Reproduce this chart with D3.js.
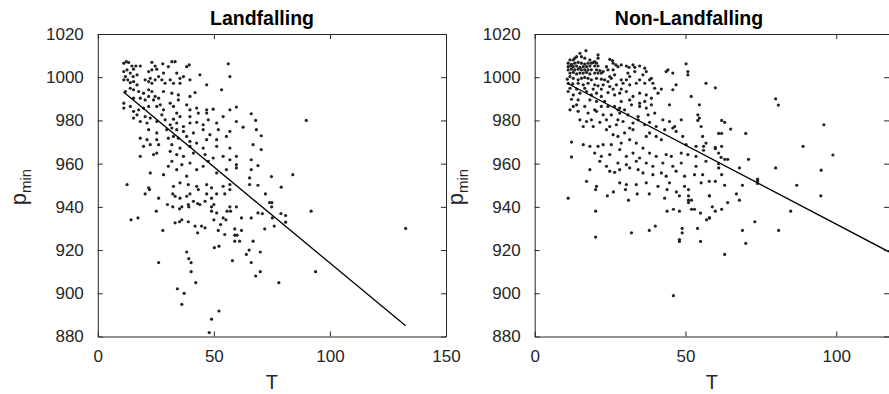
<!DOCTYPE html>
<html>
<head>
<meta charset="utf-8">
<script src="https://cdn.jsdelivr.net/npm/d3@7"></script>
<style>
  body { margin: 0; background: #fff; }
  svg { display: block; font-family: "Liberation Sans", Arial, Helvetica, sans-serif; }
  .axis path, .axis line { stroke: #262626; }
  .axis text { fill: #262626; font-size: 17px; }
</style>
</head>
<body>
<div class="chart"></div>
<script>
// Data: minimum pressure (hPa) vs T
const landT = [
    11.2,12.3,13.3,14.7,16.4,18.3,23.3,24.7,28.0,30.4,31.9,33.3,38.3,39.4,56.2,
    11.2,12.6,14.0,15.4,11.9,15.2,16.9,21.9,23.3,25.4,26.2,28.3,22.6,34.0,36.9,44.0,56.9,
    11.2,12.9,14.0,15.4,16.9,20.4,21.9,23.3,24.7,27.6,29.0,31.2,32.6,35.4,35.4,46.9,39.7,
    11.9,14.0,15.4,17.6,19.7,21.9,23.3,24.7,26.2,21.9,24.0,28.3,31.9,34.7,34.7,39.7,41.9,53.3,20.4,18.3,15.4,
    11.2,11.2,14.0,15.4,17.6,19.7,21.9,25.4,26.9,28.3,31.2,32.6,38.3,39.7,42.6,46.9,49.7,56.9,59.7,66.1,16.9,20.4,27.6,34.0,35.4,39.7,43.3,46.9,
    15.4,18.3,21.2,22.6,25.4,29.0,31.2,32.6,34.0,36.9,39.7,42.6,45.4,47.6,51.2,54.0,59.7,62.6,68.3,21.9,25.4,29.7,31.9,34.0,36.9,38.3,41.2,45.4,48.3,51.9,56.9,70.4,
    18.3,21.2,25.4,30.4,32.6,34.7,39.7,42.6,46.9,51.2,55.4,19.7,22.6,26.2,31.9,35.4,39.7,45.4,51.2,56.9,66.9,70.4,18.3,24.0,25.4,31.2,34.0,36.9,41.2,46.2,49.7,54.0,59.7,
    22.6,28.3,30.4,31.9,34.0,36.2,39.7,38.3,42.6,45.4,47.6,51.2,55.4,59.7,66.1,66.1,69.0,65.4,12.6,21.9,32.6,35.4,39.0,42.6,46.9,49.0,54.0,56.9,65.4,
    68.0,56.9,59.7,69.0,
    89.8,74.8,84.0,79.0,74.0,75.0,74.9,75.2,76.0,78.9,80.9,80.9,91.9,93.8,78.0,132.6,
    20.4,22.3,26.2,32.3,33.3,35.4,38.3,39.7,43.3,46.9,49.0,51.2,54.7,56.9,
    30.0,32.3,35.2,36.2,39.0,39.2,41.2,43.0,44.0,46.2,49.0,50.0,51.2,
    25.2,14.3,17.3,28.0,33.3,35.2,36.2,39.0,41.9,43.0,44.7,46.2,49.0,50.0,
    51.9,52.9,54.0,55.2,55.7,56.9,57.2,59.7,54.7,59.0,59.0,60.0,59.0,61.1,
    61.9,61.9,64.0,65.2,66.1,66.1,66.9,68.0,69.0,70.0,70.0,70.9,71.9,72.2,
    26.2,38.3,39.2,40.2,40.2,42.2,34.3,37.2,36.2,50.2,52.2,58.0,49.0,52.2,48.0
];
const landP = [
    1006.5,1007.2,1006.8,1005.2,1005.2,1005.2,1006.9,1005.2,1006.2,1004.9,1007.2,1007.2,1004.9,1005.7,1006.2,
    1002.6,1003.4,1001.9,1003.7,1000.3,1000.3,1001.1,1002.6,1003.4,1003.7,1000.3,1001.9,999.5,1001.9,1000.3,1001.1,1000.3,
    998.8,998.8,997.5,998.0,996.5,998.8,998.0,997.2,998.8,998.8,997.2,998.8,997.2,997.2,999.5,996.5,998.8,
    993.4,994.9,994.2,993.4,992.6,994.2,993.4,991.1,990.3,991.1,989.5,993.4,992.6,991.8,989.5,991.1,992.9,994.2,989.5,990.3,990.3,
    988.0,985.7,986.5,984.2,984.9,985.7,986.5,986.5,987.2,984.9,988.0,986.5,987.2,984.9,985.7,984.9,985.2,984.9,986.2,983.1,982.6,981.8,982.6,983.4,981.8,981.8,983.4,983.4,
    981.1,979.5,978.8,981.1,979.5,980.3,978.0,980.6,978.8,977.2,978.8,979.1,978.0,980.3,978.8,981.8,979.5,976.9,975.7,975.7,974.2,975.7,976.5,975.7,974.9,972.6,974.2,975.7,973.4,975.7,974.9,972.9,
    971.8,971.1,971.1,971.8,972.6,971.8,970.3,969.5,971.1,971.1,972.6,968.0,968.8,968.8,968.8,967.2,968.0,967.2,968.0,967.2,968.8,966.5,963.4,964.2,964.9,965.7,964.2,963.4,964.9,964.2,962.6,963.4,963.4,
    955.7,954.9,958.8,961.1,957.2,959.5,960.3,954.2,957.2,958.8,961.1,955.7,957.2,958.0,961.8,957.2,959.1,953.4,950.3,948.8,949.5,951.1,950.3,949.5,950.3,948.8,949.5,950.3,950.3,
    980.0,961.8,959.5,950.0,
    980.0,954.0,954.9,949.1,942.0,942.0,940.0,934.9,931.1,936.9,936.0,932.9,938.0,910.0,904.9,930.0,
    946.0,948.0,944.0,946.0,944.9,944.0,944.9,946.0,948.0,946.0,944.0,946.0,946.0,948.0,
    941.1,940.0,939.1,940.0,941.1,940.0,942.6,941.5,941.1,942.6,940.0,941.1,937.2,
    938.0,934.0,934.9,929.1,932.6,933.1,934.0,933.1,931.1,928.0,931.1,930.3,938.0,934.0,
    929.1,931.8,934.9,934.0,938.0,940.0,938.0,940.0,927.2,929.8,926.9,926.9,924.1,924.1,
    929.1,934.9,918.0,920.0,934.9,914.2,924.1,908.0,937.2,910.0,919.1,936.9,929.8,946.0,
    914.2,919.1,916.0,914.2,910.0,904.9,902.1,900.0,894.9,921.1,921.8,915.1,888.0,891.8,881.8
];

const nonT = [
    17.0,15.0,13.3,11.7,12.8,13.9,15.5,16.6,18.3,21.0,21.0,19.9,24.9,25.8,18.8,
    11.1,12.2,13.3,14.4,15.5,16.6,17.7,19.4,20.5,11.1,11.9,12.8,13.9,15.0,16.1,17.2,18.3,19.9,
    21.0,11.1,12.2,13.3,14.4,15.5,16.6,17.7,18.8,20.5,21.6,11.7,12.8,13.9,15.0,16.1,17.2,18.3,19.9,21.0,
    22.1,22.7,23.8,24.3,26.0,26.9,27.6,28.7,30.4,31.3,32.6,33.2,34.8,36.5,37.0,33.2,35.9,31.5,30.9,26.0,
    26.5,24.9,50.2,44.2,43.6,45.8,50.8,50.8,56.8,38.7,39.2,
    10.8,11.7,12.8,14.4,15.5,16.6,17.7,18.8,20.5,22.1,23.2,24.3,25.4,
    11.1,12.6,14.4,16.1,17.7,19.9,21.0,22.7,24.9,27.1,28.7,29.3,30.4,31.5,33.7,34.8,36.5,38.1,39.8,42.0,46.9,45.8,
    11.7,13.9,16.6,19.4,22.1,26.0,28.7,
    11.1,12.8,15.0,17.2,18.8,20.5,22.1,24.3,26.5,28.2,30.4,32.6,34.8,37.0,38.7,40.9,
    36.5,34.8,31.5,28.7,23.2,20.5,18.3,14.4,12.2,
    12.8,11.7,13.9,16.6,19.9,22.1,24.3,26.5,27.6,28.2,29.8,32.1,34.8,37.0,38.7,44.7,51.9,54.6,
    15.0,16.1,17.2,18.8,19.4,21.6,23.8,24.9,27.1,27.6,29.3,31.5,32.6,34.3,36.5,38.1,40.3,42.5,44.7,46.4,48.6,54.1,54.6,55.2,
    14.4,17.7,20.5,22.7,25.4,28.2,30.9,34.3,37.6,39.8,
    54.1,56.0,56.0,
    12.2,16.1,18.3,21.0,22.7,26.0,27.6,29.8,31.5,33.7,37.0,38.1,40.3,42.0,43.1,45.8,46.9,49.1,50.2,53.5,55.7,56.8,25.4,28.7,35.9,23.8,32.6,
    12.2,19.9,22.1,24.9,28.2,30.4,32.6,34.8,38.1,40.3,43.6,45.3,48.6,50.8,53.5,21.6,23.8,27.6,30.4,33.7,37.0,39.2,42.5,45.8,48.6,53.5,56.8,18.3,
    24.9,26.5,28.2,31.5,34.3,35.9,39.2,42.0,43.6,46.9,49.7,53.0,55.7,17.2,20.5,28.2,30.4,33.7,37.0,40.9,44.7,49.7,55.2,
    59.9,62.0,63.0,65.0,61.0,62.0,70.0,62.0,59.9,59.9,61.0,61.8,63.0,64.0,70.9,61.0,61.0,67.9,62.0,59.9,57.9,63.0,68.9,73.9,73.9,73.9,79.9,80.8,79.9,86.9,89.0,95.0,95.9,98.9,
    11.1,20.2,24.1,26.1,30.1,31.1,34.0,38.0,43.1,43.9,47.0,48.0,51.0,51.0,51.0,51.0,52.0,57.9,20.2,43.9,46.0,48.0,52.0,53.0,55.0,57.0,57.9,20.2,32.1,38.0,40.0,48.9,48.9,48.0,48.0,54.0,55.0,46.0,
    58.0,64.0,66.9,67.9,62.0,59.9,58.9,58.0,68.9,70.0,73.0,63.0,80.9,84.9,94.9
];
const nonP = [
    1012.3,1011.1,1008.8,1008.0,1008.0,1009.5,1009.5,1008.8,1008.0,1010.3,1008.8,1007.2,1008.3,1007.7,1006.5,
    1006.5,1006.0,1006.5,1006.9,1006.5,1006.1,1006.5,1006.8,1006.5,1004.9,1005.2,1004.9,1005.2,1004.6,1004.9,1004.9,1005.2,1005.2,
    1005.2,1003.4,1003.7,1003.4,1003.7,1003.4,1003.4,1003.4,1003.4,1003.4,1003.1,1001.9,1002.2,1001.5,1001.9,1001.9,1002.2,1001.5,1001.9,1001.9,
    1001.9,1002.6,1004.9,1003.4,1006.5,1005.7,1004.9,1005.7,1005.2,1004.6,1005.7,1004.6,1005.2,1004.2,1002.6,1002.6,1001.1,1000.3,1001.9,1003.4,
    1001.1,1000.3,1006.2,1003.4,1002.6,1001.9,1002.6,1001.1,997.2,999.5,997.2,
    999.1,1000.3,999.5,998.8,999.5,999.9,999.5,998.8,999.5,999.1,998.8,998.0,999.5,
    997.2,996.9,997.2,996.5,997.2,996.5,996.0,996.5,995.7,996.5,998.8,997.2,998.8,996.5,997.2,998.8,997.2,998.8,994.9,994.5,996.5,994.2,
    994.9,994.5,994.9,994.5,994.5,994.5,994.5,
    993.4,991.8,992.6,993.4,991.8,992.6,991.1,992.9,991.8,992.6,993.4,991.1,992.6,991.8,990.3,992.6,
    988.8,988.0,989.5,988.8,988.8,988.8,989.5,989.5,989.8,
    986.5,984.9,987.2,986.5,984.9,986.5,986.5,986.5,984.9,985.7,984.9,987.2,986.5,985.7,987.2,987.2,991.1,987.2,
    980.3,977.2,979.5,980.3,977.2,979.1,980.3,977.2,978.0,980.3,979.5,976.5,978.8,980.3,978.0,979.1,977.2,980.3,979.5,977.2,980.3,982.6,981.1,977.2,
    984.2,983.4,984.2,982.6,982.6,983.4,982.6,981.8,982.6,983.4,
    980.0,968.0,966.2,
    970.0,968.8,968.0,968.0,968.8,973.4,972.6,974.2,971.1,969.5,972.6,974.2,972.6,971.1,975.7,976.5,974.9,972.6,968.8,968.0,972.6,969.5,968.8,969.5,967.2,975.7,975.7,
    963.1,964.9,963.4,964.2,966.5,963.4,964.9,962.6,964.9,963.4,964.2,963.4,964.9,964.2,963.4,961.1,958.8,960.3,959.5,961.1,960.3,958.8,960.3,958.8,960.3,958.8,961.1,957.2,
    956.5,956.0,957.2,958.0,957.2,955.7,954.9,955.7,954.2,956.5,954.2,954.9,954.9,951.8,949.5,951.1,950.3,950.3,951.1,949.5,951.1,949.5,951.1,
    995.1,980.0,979.1,976.0,974.0,974.0,974.0,968.0,967.5,966.9,964.9,962.9,962.0,962.0,962.0,960.0,958.0,958.0,954.9,951.8,951.8,950.0,950.0,952.8,951.8,950.8,990.0,987.1,958.0,950.0,968.0,957.0,978.0,964.0,
    944.0,948.0,945.1,946.9,948.0,943.1,946.0,946.0,944.0,948.0,946.9,945.1,948.0,945.1,943.1,942.0,943.1,945.1,938.0,938.0,938.9,938.0,938.9,938.9,937.1,934.0,934.9,926.0,928.0,929.1,931.1,930.0,928.0,924.9,924.0,930.0,924.0,898.9,
    945.1,942.0,946.0,943.1,938.9,938.0,940.0,934.9,929.1,923.1,933.1,918.0,929.1,938.0,945.1
];

// Fitted lines (end points)
const landLineT = [11.1, 132.6];
const landLineP = [993.1, 885.0];
const nonLineT = [10.8, 117.5];
const nonLineP = [997.2, 919.2];

// Ticks
const landXTicks = [0, 50, 100, 150];
const nonXTicks = [0, 50, 100];
const yTicks = [880, 900, 920, 940, 960, 980, 1000, 1020];

// Main
const svg = d3.select('.chart')
    .append('svg')
    .attr('width', 889)
    .attr('height', 394);

function drawPanel(cfg) {
    const x = d3.scaleLinear().domain(cfg.xDomain).range(cfg.xRange);
    const y = d3.scaleLinear().domain([880, 1020]).range([336.5, 34]);

    const g = svg.append('g');
    const [x0, x1] = cfg.xRange;
    const [y1, y0] = y.range();

    g.append('clipPath')
        .attr('id', cfg.id + '-clip')
        .append('rect')
        .attr('x', x0).attr('y', y0)
        .attr('width', x1 - x0).attr('height', y1 - y0);

    // points
    g.append('g')
        .selectAll('circle')
        .data(d3.range(cfg.T.length))
        .join('circle')
        .attr('cx', i => x(cfg.T[i]))
        .attr('cy', i => y(cfg.P[i]))
        .attr('r', 1.6)
        .attr('fill', '#222');

    // fitted line
    const line = d3.line()
        .x(i => x(cfg.lineT[i]))
        .y(i => y(cfg.lineP[i]));
    g.append('path')
        .datum([0, 1])
        .attr('d', line)
        .attr('clip-path', `url(#${cfg.id}-clip)`)
        .attr('fill', 'none')
        .attr('stroke', '#000')
        .attr('stroke-width', 1.3);

    // axes, ticks pointing inwards on all four sides
    g.append('g')
        .attr('class', 'axis')
        .attr('transform', `translate(0, ${y1})`)
        .call(d3.axisBottom(x).tickValues(cfg.xTicks).tickSize(-5).tickSizeOuter(0).tickPadding(13));
    g.append('g')
        .attr('class', 'axis')
        .attr('transform', `translate(0, ${y0})`)
        .call(d3.axisTop(x).tickValues(cfg.xTicks).tickSize(-5).tickSizeOuter(0).tickFormat(''));
    g.append('g')
        .attr('class', 'axis')
        .attr('transform', `translate(${x0}, 0)`)
        .call(d3.axisLeft(y).tickValues(yTicks).tickSize(-5).tickSizeOuter(0).tickPadding(14).tickFormat(d3.format('d')));
    g.append('g')
        .attr('class', 'axis')
        .attr('transform', `translate(${x1}, 0)`)
        .call(d3.axisRight(y).tickValues(yTicks).tickSize(-5).tickSizeOuter(0).tickFormat(''));

    g.selectAll('.axis .domain').attr('stroke', '#262626');

    // title
    g.append('text')
        .attr('x', cfg.titleX)
        .attr('y', 25)
        .attr('text-anchor', 'middle')
        .style('font-size', '19.5px')
        .style('font-weight', 'bold')
        .text(cfg.title);

    // x label
    g.append('text')
        .attr('x', (x0 + x1) / 2)
        .attr('y', 389)
        .attr('text-anchor', 'middle')
        .style('font-size', '20px')
        .attr('fill', '#262626')
        .text('T');

    // y label p_min
    const yl = g.append('text')
        .attr('transform', `translate(${x0 - 72}, 187) rotate(-90)`)
        .attr('text-anchor', 'middle')
        .attr('fill', '#262626');
    yl.append('tspan').style('font-size', '22px').text('p');
    yl.append('tspan').style('font-size', '15px').attr('dy', 5).text('min');
}

drawPanel({
    id: 'land',
    T: landT, P: landP,
    lineT: landLineT, lineP: landLineP,
    xDomain: [0, 150], xRange: [97.8, 446],
    xTicks: landXTicks,
    title: 'Landfalling', titleX: 262
});

drawPanel({
    id: 'non',
    T: nonT, P: nonP,
    lineT: nonLineT, lineP: nonLineP,
    xDomain: [0, 117.5], xRange: [534.7, 889],
    xTicks: nonXTicks,
    title: 'Non-Landfalling', titleX: 689
});
</script>
</body>
</html>
